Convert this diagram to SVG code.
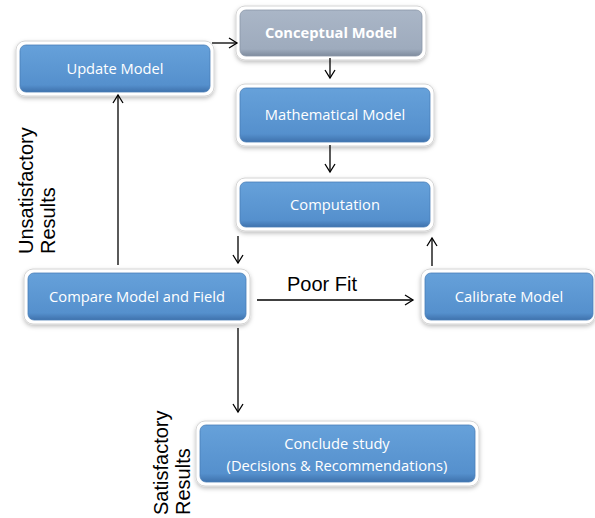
<svg xmlns="http://www.w3.org/2000/svg" width="595" height="518" viewBox="0 0 595 518">
<style>
.frame{fill:#ffffff;stroke:#d4d4d4;stroke-width:1}
.box{fill:url(#blue);stroke:#4a7fb8;stroke-width:0.8}
.gbox{fill:url(#gray);stroke:#8a97a8;stroke-width:0.8}
.t{font-family:"Open Sans","Liberation Sans",sans-serif;font-size:14.7px;fill:#ffffff;text-anchor:middle}
.tb{font-weight:bold}
.lbl{font-family:"Liberation Sans",Arial,sans-serif;font-size:20px;fill:#000000}
.c{stroke:#000000;stroke-width:1.3;fill:none;marker-end:url(#ah)}
</style>
<defs>
<linearGradient id="blue" x1="0" y1="0" x2="0" y2="1">
<stop offset="0" stop-color="#66a1da"/>
<stop offset="0.85" stop-color="#5590cd"/>
<stop offset="1" stop-color="#3f72ad"/>
</linearGradient>
<linearGradient id="gray" x1="0" y1="0" x2="0" y2="1">
<stop offset="0" stop-color="#aab6c7"/>
<stop offset="0.85" stop-color="#9eabbd"/>
<stop offset="1" stop-color="#7f8c9e"/>
</linearGradient>
<filter id="sh" x="-10%" y="-20%" width="120%" height="150%">
<feDropShadow dx="0" dy="2" stdDeviation="2" flood-color="#000000" flood-opacity="0.25"/>
</filter>
<marker id="ah" markerWidth="12" markerHeight="12" refX="10" refY="6" orient="auto" markerUnits="userSpaceOnUse">
<polyline points="2,1 10,6 2,11" fill="none" stroke="#000000" stroke-width="1.3"/>
</marker>
</defs>

<g id="conceptual">
<rect class="frame" x="236" y="6" width="190" height="54" rx="9" filter="url(#sh)"/>
<rect class="gbox" x="240" y="10" width="182" height="46" rx="6"/>
<text class="t tb" x="331" y="38">Conceptual Model</text>
</g>

<g id="update">
<rect class="frame" x="16" y="41" width="198" height="55" rx="9" filter="url(#sh)"/>
<rect class="box" x="20" y="45" width="190" height="47" rx="6"/>
<text class="t" x="115" y="74">Update Model</text>
</g>

<g id="mathematical">
<rect class="frame" x="236" y="84" width="198" height="62" rx="9" filter="url(#sh)"/>
<rect class="box" x="240" y="88" width="190" height="54" rx="6"/>
<text class="t" x="335" y="120">Mathematical Model</text>
</g>

<g id="computation">
<rect class="frame" x="236" y="178" width="198" height="53" rx="9" filter="url(#sh)"/>
<rect class="box" x="240" y="182" width="190" height="45" rx="6"/>
<text class="t" x="335" y="210">Computation</text>
</g>

<g id="compare">
<rect class="frame" x="24" y="269" width="226" height="55" rx="9" filter="url(#sh)"/>
<rect class="box" x="28" y="273" width="218" height="47" rx="6"/>
<text class="t" x="137" y="302">Compare Model and Field</text>
</g>

<g id="calibrate">
<rect class="frame" x="421" y="269" width="174" height="55" rx="9" filter="url(#sh)"/>
<rect class="box" x="425" y="273" width="168" height="47" rx="6"/>
<text class="t" x="509" y="302">Calibrate Model</text>
</g>

<g id="conclude">
<rect class="frame" x="196" y="421" width="283" height="65" rx="9" filter="url(#sh)"/>
<rect class="box" x="200" y="425" width="275" height="57" rx="6"/>
<text class="t" x="337" y="449">Conclude study</text>
<text class="t" x="337" y="471">(Decisions &amp; Recommendations)</text>
</g>

<g id="connectors">
<line class="c" x1="212" y1="43" x2="237" y2="43"/>
<line class="c" x1="330" y1="58" x2="330" y2="78"/>
<line class="c" x1="330" y1="145" x2="330" y2="172"/>
<line class="c" x1="238" y1="236" x2="238" y2="263"/>
<line class="c" x1="257" y1="300" x2="413" y2="300"/>
<line class="c" x1="432" y1="266" x2="432" y2="238"/>
<line class="c" x1="118" y1="265" x2="118" y2="95"/>
<line class="c" x1="238" y1="328" x2="238" y2="412"/>
</g>

<g id="labels">
<text class="lbl" x="287" y="291">Poor Fit</text>
<text class="lbl" transform="translate(33,254) rotate(-90)">Unsatisfactory</text>
<text class="lbl" transform="translate(55,254) rotate(-90)">Results</text>
<text class="lbl" transform="translate(168,515) rotate(-90)">Satisfactory</text>
<text class="lbl" transform="translate(190,515) rotate(-90)">Results</text>
</g>
</svg>
